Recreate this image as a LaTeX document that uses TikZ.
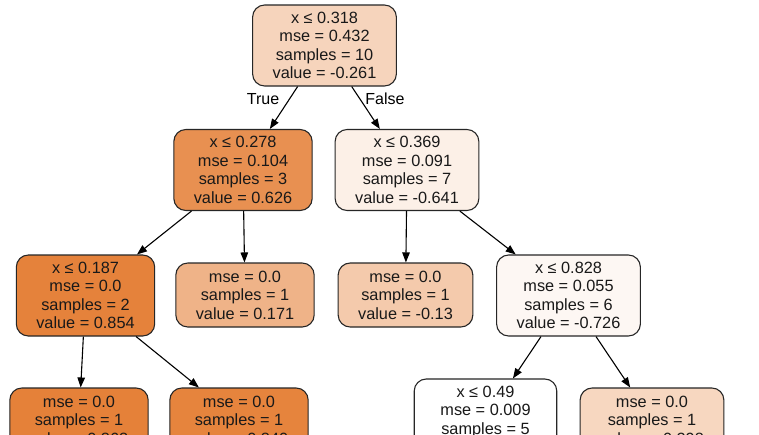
\documentclass[tikz,border=0pt]{standalone}
\usepackage{fontspec}
\setmainfont{Liberation Sans}
\usetikzlibrary{arrows.meta}
\definecolor{treeorange}{HTML}{E58139}
\tikzset{
  box/.style={rectangle,rounded corners=12pt,draw=black!85,line width=1.1pt,align=center,
              inner xsep=20pt,inner ysep=0pt,text=black!90,font=\fontsize{16.3}{18.5}\selectfont},
  % split nodes carry four lines, leaves three
  split/.style={box,minimum height=81pt},
  leaf/.style={box,minimum height=64pt},
  lab/.style={font=\fontsize{16}{18}\selectfont},
  arrow/.style={-{Triangle[length=10pt,width=7.5pt]},line width=1.1pt},
}

\begin{document}
\begin{tikzpicture}[x=1pt,y=-1pt]
  \useasboundingbox (0,0) rectangle (759,434);
  \fill[white] (0,0) rectangle (759,434);
  \clip (0,0) rectangle (759,434);
  % fill strength follows the node value (white = lowest, orange = highest)
  \node[split,fill=treeorange!34] (n0) at (324.5,45.5) {x ≤ 0.318\\mse = 0.432\\samples = 10\\value = -0.261};
  \node[split,fill=treeorange!88] (n1) at (243,170) {x ≤ 0.278\\mse = 0.104\\samples = 3\\value = 0.626};
  \node[split,fill=treeorange!12] (n2) at (407,170) {x ≤ 0.369\\mse = 0.091\\samples = 7\\value = -0.641};
  \node[split,fill=treeorange!99] (n3) at (85.5,295.5) {x ≤ 0.187\\mse = 0.0\\samples = 2\\value = 0.854};
  \node[leaf,fill=treeorange!60] (n4) at (245,295) {mse = 0.0\\samples = 1\\value = 0.171};
  \node[leaf,fill=treeorange!42] (n5) at (405.5,295) {mse = 0.0\\samples = 1\\value = -0.13};
  \node[split,fill=treeorange!6] (n6) at (568.5,295.5) {x ≤ 0.828\\mse = 0.055\\samples = 6\\value = -0.726};
  \node[leaf,fill=treeorange!100] (n7) at (79,420) {mse = 0.0\\samples = 1\\value = 0.868};
  \node[leaf,fill=treeorange!98] (n8) at (239,420) {mse = 0.0\\samples = 1\\value = 0.840};
  \node[split,fill=white] (n9) at (485.5,419.5) {x ≤ 0.49\\mse = 0.009\\samples = 5\\value = -0.811};
  \node[leaf,fill=treeorange!32] (n10) at (652,420) {mse = 0.0\\samples = 1\\value = -0.298};

  \draw[arrow] (n0) -- (n1);
  \draw[arrow] (n0) -- (n2);
  \draw[arrow] (n1) -- (n3);
  \draw[arrow] (n1) -- (n4);
  \draw[arrow] (n2) -- (n5);
  \draw[arrow] (n2) -- (n6);
  \draw[arrow] (n3) -- (n7);
  \draw[arrow] (n3) -- (n8);
  \draw[arrow] (n6) -- (n9);
  \draw[arrow] (n6) -- (n10);

  \node[lab] (ltrue) at (263,99) {True};
  \node[lab] (lfalse) at (385,99) {False};
\end{tikzpicture}
\end{document}
